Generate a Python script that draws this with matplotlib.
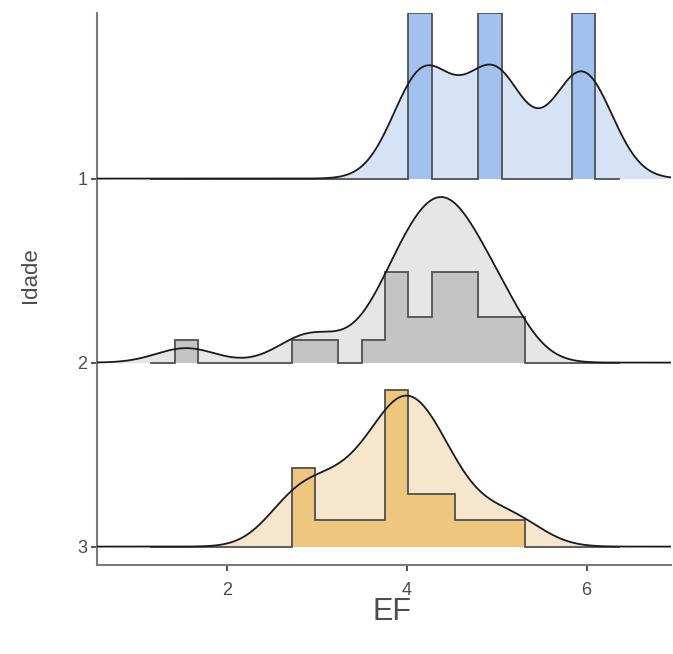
import numpy as np
import matplotlib
matplotlib.use("Agg")
import matplotlib.pyplot as plt

# ---- data ----
groups = ["1", "2", "3"]
bin_edges = [1.155, 1.415, 1.675, 1.935, 2.195, 2.455, 2.715, 2.975, 3.235,
             3.495, 3.755, 4.015, 4.275, 4.535, 4.795, 5.055, 5.315, 5.575,
             5.835, 6.095, 6.355]

ef_values_1 = [4.18, 4.97, 5.95]
ef_counts_1 = [5, 5, 5]

ef_values_2 = [1.54, 2.83, 3.01, 3.62, 3.88, 3.96, 3.97, 4.17, 4.37, 4.38,
               4.46, 4.54, 4.64, 4.92, 4.93, 5.08]
ef_counts_2 = [1, 1, 1, 1, 1, 2, 1, 2, 1, 2, 1, 3, 1, 1, 1, 2]

ef_values_3 = [2.72, 2.74, 2.94, 3.23, 3.33, 3.50, 3.76, 3.94, 3.95, 3.96,
               4.15, 4.23, 4.34, 4.38, 4.57, 4.97, 5.26]
ef_counts_3 = [1, 1, 1, 1, 1, 1, 2, 2, 1, 1, 1, 1, 1, 1, 1, 1, 1]

bandwidth = 0.33
ridge_scale = 0.9

dens_fill = ["#d6e2f6", "#e6e6e6", "#f6e6cd"]
hist_fill = ["#a3c1ef", "#c4c4c4", "#efc67e"]

obs = [np.repeat(ef_values_1, ef_counts_1),
       np.repeat(ef_values_2, ef_counts_2),
       np.repeat(ef_values_3, ef_counts_3)]

allx = np.concatenate(obs)
x_from = allx.min() - 3 * bandwidth
x_to = allx.max() + 3 * bandwidth
grid = np.linspace(x_from, x_to, 512)


def kde(x, data, h):
    z = (x[:, None] - data[None, :]) / h
    return np.exp(-0.5 * z ** 2).sum(axis=1) / (len(data) * h * np.sqrt(2 * np.pi))


dens = [kde(grid, o, bandwidth) for o in obs]
hists = [np.histogram(o, bins=bin_edges, density=True)[0] for o in obs]
dmax = max(d.max() for d in dens)
hmax = max(h.max() for h in hists)

# ---- figure ----
W, H = 673, 654
fig = plt.figure(figsize=(W / 100, H / 100), dpi=100)
px_per_unit = 89.85
ax_left = 97
ax_right = ax_left + (x_to - x_from) * px_per_unit
ax = fig.add_axes([ax_left / W, (H - 565) / H, (ax_right - ax_left) / W, (565 - 13) / H])

edges = np.array(bin_edges)
for i, g in enumerate(groups):
    base = i + 1
    d = dens[i] / dmax * ridge_scale
    ax.fill_between(grid, base, base - d, color=dens_fill[i], lw=0, zorder=1 + i * 3)
    h = hists[i] / hmax * ridge_scale
    sx = np.concatenate([[edges[0]], np.repeat(edges, 2)[1:-1], [edges[-1]]])
    sy = np.concatenate([[0], np.repeat(h, 2), [0]])
    ax.fill_between(sx, base, base - sy, color=hist_fill[i], lw=0, zorder=2 + i * 3)
    ax.plot(sx, base - sy, color="#505050", lw=1.3, zorder=2.5 + i * 3,
            solid_joinstyle="miter")
    ax.plot(grid, base - d, color="#1a1a1a", lw=1.3, zorder=3 + i * 3)

ax.set_xlim(x_from, x_to)
ax.set_ylim(3.1, 0.1)
ax.set_xticks([2, 4, 6])
ax.set_yticks([1, 2, 3])
ax.set_yticklabels(groups)
for s in ["top", "right"]:
    ax.spines[s].set_visible(False)
for s in ["left", "bottom"]:
    ax.spines[s].set_color("#7a7a7a")
    ax.spines[s].set_linewidth(1.5)
ax.tick_params(axis="both", colors="#333333", length=4, width=1.2,
               labelsize=13, labelcolor="#4d4d4d")
ax.tick_params(axis="x", pad=8)
ax.tick_params(axis="y", pad=3)
for lab in ax.get_xticklabels() + ax.get_yticklabels():
    lab.set_family("Liberation Sans")

fig.text(392 / W, 1 - 612 / H, "EF", fontsize=22, color="#4d4d4d",
         family="Liberation Sans", ha="center", va="center")
fig.text(30 / W, 1 - 275 / H, "Idade", fontsize=16, color="#4d4d4d",
         family="Liberation Sans", ha="center", va="center", rotation=90)

fig.savefig("out.png", dpi=100)
